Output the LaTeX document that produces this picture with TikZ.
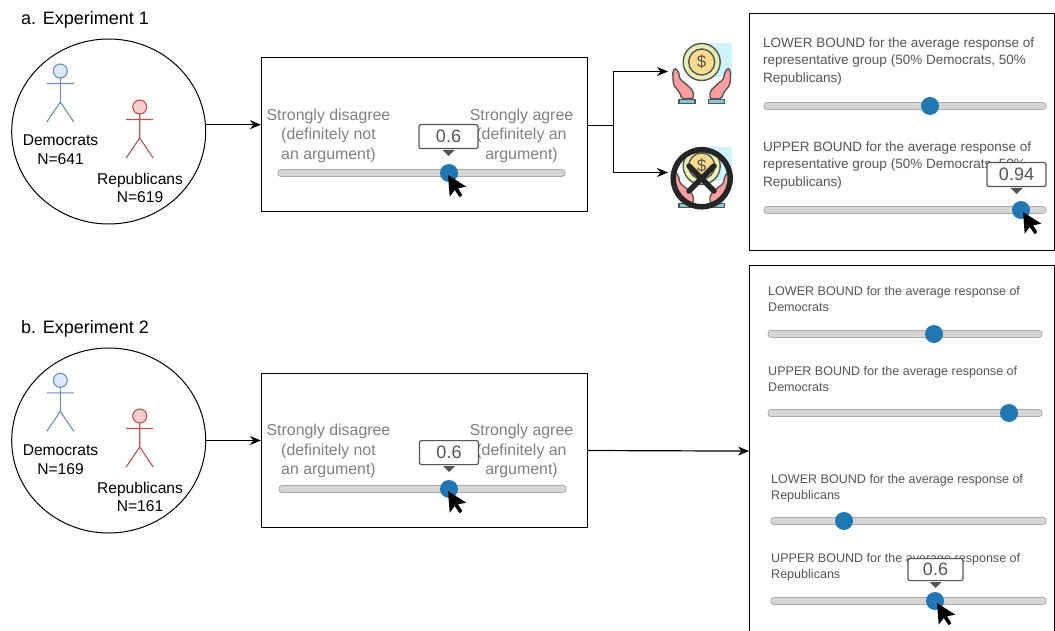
\documentclass[tikz,border=0pt]{standalone}
\usepackage{fontspec}
\setmainfont{Liberation Sans}
\usetikzlibrary{positioning}
\usetikzlibrary{arrows.meta}
\usetikzlibrary{shapes.geometric}
\definecolor{knobColor}{RGB}{31,120,180}
\definecolor{labelGrey}{RGB}{128,128,128}
\definecolor{panelGrey}{RGB}{85,85,85}
\definecolor{trackFill}{RGB}{214,214,214}
\definecolor{trackLine}{RGB}{170,170,170}
\definecolor{demFill}{HTML}{DAE8FC}
\definecolor{demLine}{HTML}{6C8EBF}
\definecolor{repFill}{HTML}{F8CECC}
\definecolor{repLine}{HTML}{B85450}
\definecolor{iconLine}{RGB}{85,85,85}
\definecolor{iconSky}{HTML}{CFF5FB}
\definecolor{coinOuter}{HTML}{E6EFB4}
\definecolor{coinInner}{HTML}{FFDC8C}
\definecolor{handFill}{HTML}{FF9E9E}
\definecolor{cuffFill}{HTML}{86C5D8}
\tikzstyle{canvas} = [x = 1pt, y = -1pt]
\tikzstyle{flowArrow} = [line width = 1.2pt, -{Stealth[length=11pt,width=9pt]}]
\tikzstyle{flowLine} = [line width = 1.2pt]
\tikzstyle{groupCircle} = [draw, ellipse, line width = 1pt, minimum width = 194, minimum height = 185, inner sep = 0]
\tikzstyle{frameBox} = [draw, rectangle, line width = 1.2pt, inner sep = 0]
\tikzstyle{titleText} = [font=\fontsize{18}{20}\selectfont, inner sep = 0]
\tikzstyle{groupText} = [font=\fontsize{15.6}{18.5}\selectfont, align=center, inner sep = 0]
\tikzstyle{scaleText} = [font=\fontsize{15.9}{19.5}\selectfont, text=labelGrey, align=center, inner sep = 0]
\tikzstyle{panelTextA} = [font=\fontsize{13.5}{17.5}\selectfont, text=panelGrey, align=left, anchor=north west, inner sep = 0]
\tikzstyle{panelTextB} = [font=\fontsize{12.55}{16}\selectfont, text=panelGrey, align=left, anchor=north west, inner sep = 0]
\tikzstyle{sliderTrack} = [fill=trackFill, draw=trackLine, line width = .8pt, rounded corners = 3]
\tikzstyle{sliderKnob} = [circle, fill=knobColor, minimum size = 18, inner sep = 0]
\tikzstyle{valueBubble} = [draw=panelGrey, fill=white, line width = 1.2pt, rounded corners = 2, text=panelGrey, font=\fontsize{18}{20}\selectfont, inner sep = 0]
\newcommand{\sliderBar}[5]{
  \filldraw [sliderTrack] (#2,#4 - 3.5) rectangle (#3,#4 + 3.5);
  \node [sliderKnob] (#1) at (#5,#4) {};
}
\newcommand{\sliderPointer}[2]{\fill [black] (#1,#2) -- + (1.7,21.7) -- + (6.7,15) -- + (11.7,22.3) -- + (14.3,20) -- + (10,13.3) -- + (18.3,11.7) -- cycle;}
% name, centre x, top y, width, height, value
\newcommand{\valueTag}[6]{
  \node [valueBubble, minimum width = #4, minimum height = #5, anchor=north] (#1) at (#2,#3) {#6};
  \fill [panelGrey] (#2 - 6,#3 + #5 + 2) -- (#2 + 6,#3 + #5 + 2) -- (#2,#3 + #5 + 8) -- cycle;
}
\newcommand{\stickFigure}[4]{
  \filldraw [fill=#4, draw=#3, line width = 1.1pt] (#1,#2) circle (7);
  \draw [#3, line width = 1.1pt] (#1,#2 + 7) -- (#1,#2 + 31) (#1 - 13.5,#2 + 12.5) -- (#1 + 13.5,#2 + 12.5) (#1 - 13.5,#2 + 51) -- (#1,#2 + 31) -- (#1 + 13.5,#2 + 51);
}
\newcommand{\handShape}{
  \filldraw [fill=handFill, draw=iconLine, line width = 1.4pt, rounded corners = 2] (-29,9.3) -- (-26.7,6) -- (-23.3,9.3) -- (-21.7,17.7) -- (-16.7,21) -- (-8.3,29.3) -- (-8.3,36.7) -- (-20,36.7) -- (-21.7,31) -- (-28.3,22.7) -- cycle;
  \filldraw [fill=cuffFill, draw=iconLine, line width = 1.4pt] (-22.7,37.7) rectangle (-6.7,41.7);
}
% drawn around the centre of the coin
\newcommand{\moneyIcon}[3]{
  \begin{scope}[shift={(#1,#2)}]
    \fill [iconSky] (-7,-19) rectangle (30,15);
    \filldraw [fill=coinOuter, draw=iconLine, line width = 1.4pt] (0,0) circle (18.5);
    \filldraw [fill=coinInner, draw=iconLine, line width = 1.4pt] (0,0) circle (13);
    \node [font=\fontsize{17}{17}\selectfont, text=iconLine, inner sep = 0] (#3) at (0,0) {\$};
    \handShape
    \begin{scope}[xscale = -1]
      \handShape
    \end{scope}
  \end{scope}
}
\begin{document}
\begin{tikzpicture}[canvas]
  \useasboundingbox (0,0) rectangle (1055,631);

  % a. Experiment 1
  \node [titleText, anchor=west] (titleA) at (21,19.5) {a. Experiment 1};
  \node [groupCircle] (groupA) at (108.7,131.5) {};
  \stickFigure{60.3}{71}{demLine}{demFill}
  \stickFigure{139.7}{107}{repLine}{repFill}
  \node [groupText] (demA) at (60.5,149.5) {Democrats\\N=641};
  \node [groupText] (repA) at (140,188) {Republicans\\N=619};

  \node [frameBox, minimum width = 326, minimum height = 154] (surveyA) at (424.5,134.5) {};
  \node [scaleText] (disagreeA) at (328.5,135.5) {Strongly disagree\\(definitely not\\an argument)};
  \node [scaleText] (agreeA) at (521.5,135.5) {Strongly agree\\(definitely an\\argument)};
  \sliderBar{knobA}{278}{565}{173}{449}
  \valueTag{tagA}{448.5}{124}{59}{24}{0.6}
  \sliderPointer{448}{175}

  \coordinate (branchA) at (613.5,125.5);
  \coordinate (payEnd) at (668,71.5);
  \coordinate (noPayEnd) at (668,172.5);
  \draw [flowArrow] (groupA.4) -- (groupA.4 -| surveyA.west);
  \draw [flowLine] (branchA -| surveyA.east) -- (branchA);
  \draw [flowArrow] (branchA) |- (payEnd);
  \draw [flowArrow] (branchA) |- (noPayEnd);

  \moneyIcon{701.7}{62}{payIcon}
  \moneyIcon{701.7}{166}{noPayIcon}
  \draw [black!85, line width = 5.5pt] (701.7,178.3) circle (28.5);
  \draw [black!85, line width = 5.5pt, line cap = round] (689,166) -- (714,191) (714,166) -- (689,191);

  \node [frameBox, minimum width = 305, minimum height = 237, anchor=north west] (panelA) at (749,13) {};
  \node [panelTextA] (lowerA) at (763,37.5) {LOWER BOUND for the average response of\\representative group (50\% Democrats, 50\%\\Republicans)};
  \sliderBar{lowerKnobA}{764}{1046}{106}{930}
  \node [panelTextA] (upperA) at (763,141.5) {UPPER BOUND for the average response of\\representative group (50\% Democrats, 50\%\\Republicans)};
  \sliderBar{upperKnobA}{764}{1046}{210}{1021}
  \valueTag{tagUpperA}{1016.5}{162}{59}{24}{0.94}
  \sliderPointer{1023}{212}

  % b. Experiment 2
  \node [titleText, anchor=west] (titleB) at (21,328.5) {b. Experiment 2};
  \node [groupCircle] (groupB) at (108.7,440.5) {};
  \stickFigure{60.3}{380.3}{demLine}{demFill}
  \stickFigure{139.7}{416}{repLine}{repFill}
  \node [groupText] (demB) at (60.5,459.5) {Democrats\\N=169};
  \node [groupText] (repB) at (140,497) {Republicans\\N=161};

  \node [frameBox, minimum width = 326, minimum height = 154] (surveyB) at (424.5,450.5) {};
  \node [scaleText] (disagreeB) at (328.5,451) {Strongly disagree\\(definitely not\\an argument)};
  \node [scaleText] (agreeB) at (521.5,451) {Strongly agree\\(definitely an\\argument)};
  \sliderBar{knobB}{279}{566}{489}{449}
  \valueTag{tagB}{449}{440}{59}{24}{0.6}
  \sliderPointer{448}{491}

  \node [frameBox, minimum width = 305, minimum height = 371, anchor=north west] (panelB) at (749,265) {};
  \draw [flowArrow] (groupB.east) -- (groupB.east -| surveyB.west);
  \draw [flowArrow] (surveyB.east) -- (panelB.west);
  \node [panelTextB] (lowerDem) at (768,286.5) {LOWER BOUND for the average response of\\Democrats};
  \sliderBar{lowerKnobDem}{768}{1042}{334}{934}
  \node [panelTextB] (upperDem) at (768,366.5) {UPPER BOUND for the average response of\\Democrats};
  \sliderBar{upperKnobDem}{768}{1042}{413}{1009}
  \node [panelTextB] (lowerRep) at (771,474) {LOWER BOUND for the average response of\\Republicans};
  \sliderBar{lowerKnobRep}{771}{1046}{521}{844}
  \node [panelTextB] (upperRep) at (771,553.5) {UPPER BOUND for the average response of\\Republicans};
  \sliderBar{upperKnobRep}{771}{1046}{601}{935}
  \valueTag{tagRep}{935.5}{558}{55}{22}{0.6}
  \sliderPointer{937}{603}
\end{tikzpicture}
\end{document}
